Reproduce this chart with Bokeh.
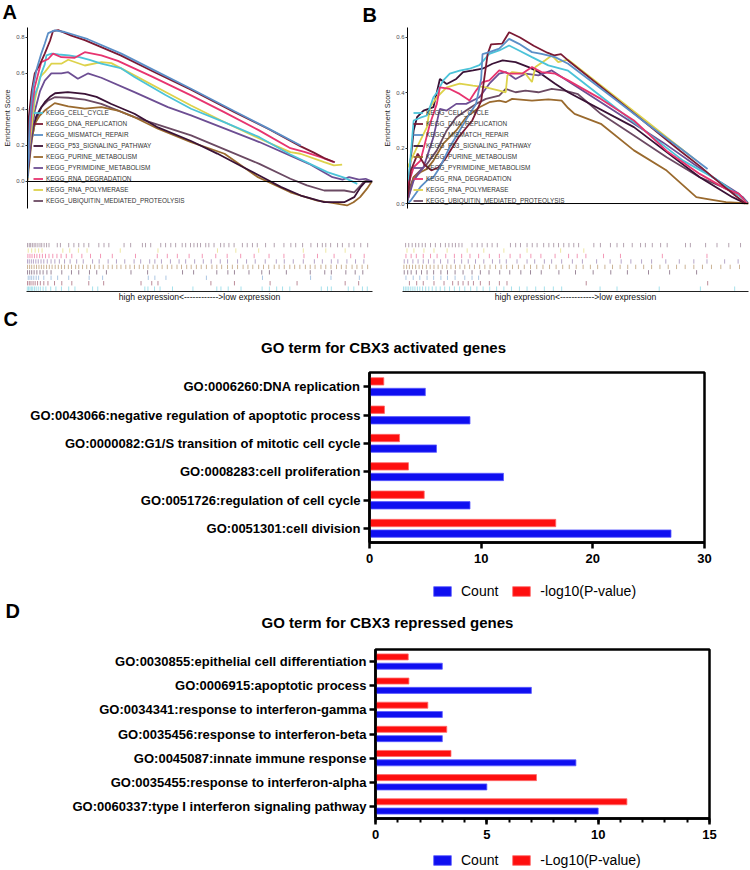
from bokeh.plotting import figure
from bokeh.models import (Range1d, FactorRange, FixedTicker, PrintfTickFormatter, Span,
                          Label, Legend, LegendItem, ColumnDataSource)
from bokeh.layouts import row, column
from bokeh.transform import dodge
from bokeh.embed import file_html
from bokeh.resources import INLINE

FONT = "Liberation Sans"

# ---------------- GSEA gene sets ----------------
set_names = ["KEGG_CELL_CYCLE", "KEGG_DNA_REPLICATION", "KEGG_MISMATCH_REPAIR",
             "KEGG_P53_SIGNALING_PATHWAY", "KEGG_PURINE_METABOLISM",
             "KEGG_PYRIMIDINE_METABOLISM", "KEGG_RNA_DEGRADATION",
             "KEGG_RNA_POLYMERASE", "KEGG_UBIQUITIN_MEDIATED_PROTEOLYSIS"]
set_colors = ["#4cc3d9", "#7b1a34", "#5b8fc7", "#3a1236", "#9a6a2e",
              "#6d4e93", "#e7346f", "#ddd24b", "#6b4a63"]

# Panel A running enrichment scores (x = rank position in %, y = ES)
a_cyc_x = [0, 0.4, 1.2, 2.1, 3.1, 4.0, 5.0, 5.5, 7.0, 9.0, 12.0, 15.0, 18.0, 21.4, 27.0, 31.0, 40.0, 47.4, 57.0, 67.2, 76.2, 86.9, 92.0, 95.6]
a_cyc_y = [0.02, 0.2, 0.37, 0.48, 0.53, 0.6, 0.65, 0.70, 0.71, 0.705, 0.70, 0.69, 0.675, 0.655, 0.63, 0.58, 0.48, 0.404, 0.33, 0.246, 0.15, 0.052, 0.02, -0.013]
a_dna_x = [0, 0.4, 1.2, 2.1, 3.6, 5.0, 6.5, 7.4, 8.9, 12.7, 16.6, 27.0, 37.0, 47.4, 60.0, 70.0, 79.2, 83.0, 86.0, 89.1]
a_dna_y = [0.03, 0.36, 0.5, 0.6, 0.65, 0.71, 0.78, 0.835, 0.84, 0.81, 0.785, 0.70, 0.605, 0.51, 0.385, 0.29, 0.195, 0.16, 0.13, 0.107]
a_mmr_x = [0, 0.67, 1.6, 2.6, 4.0, 5.0, 6.0, 7.9, 10.8, 17.5, 27.2, 36.8, 47.4, 60.0, 70.0, 79.2]
a_mmr_y = [0.02, 0.34, 0.52, 0.62, 0.71, 0.765, 0.824, 0.839, 0.83, 0.79, 0.71, 0.617, 0.515, 0.39, 0.292, 0.2]
a_p53_x = [0, 0.8, 1.6, 2.5, 3.6, 5.0, 6.5, 8.0, 11.7, 16.6, 20.0, 24.3, 31.0, 37.8, 47.4, 55.0, 62.0, 68.0, 73.4, 79.2, 86.0, 91.8, 94.7, 96.6, 98.0, 100]
a_p53_y = [0.03, 0.2, 0.3, 0.36, 0.4, 0.44, 0.47, 0.49, 0.496, 0.487, 0.47, 0.43, 0.376, 0.30, 0.225, 0.155, 0.085, 0.025, -0.03, -0.078, -0.115, -0.115, -0.087, -0.03, 0.0, 0.0]
a_pur_x = [0, 1.2, 2.1, 3.6, 5.0, 7.9, 11.8, 16.6, 21.4, 26.2, 31.0, 37.8, 47.4, 57.1, 66.8, 69.5, 76.2, 84.0, 88.8, 92.6, 94.5, 96.4, 98.4, 99.8]
a_pur_y = [0.005, 0.23, 0.32, 0.367, 0.394, 0.435, 0.417, 0.404, 0.413, 0.394, 0.357, 0.293, 0.219, 0.154, 0.024, 0.0, -0.06, -0.106, -0.12, -0.133, -0.115, -0.087, -0.04, 0.0]
a_pyr_x = [0, 1.2, 2.1, 3.6, 5.0, 6.9, 9.8, 11.8, 14.6, 17.5, 21.4, 31.0, 40.7, 47.4, 67.2, 81.6, 88.4, 91.3, 93.2, 96.1, 98.0, 99.9]
a_pyr_y = [0.04, 0.26, 0.39, 0.5, 0.56, 0.6, 0.6, 0.607, 0.57, 0.6, 0.576, 0.496, 0.413, 0.367, 0.219, 0.098, 0.024, 0.01, 0.024, 0.01, 0.015, 0.0]
a_deg_x = [0, 1.2, 2.1, 3.1, 4.0, 6.0, 7.4, 9.8, 13.7, 16.6, 21.4, 26.2, 35.8, 47.4, 57.0, 67.0, 76.2, 80.5, 85.0, 88.8]
a_deg_y = [0.1, 0.394, 0.524, 0.598, 0.663, 0.68, 0.71, 0.69, 0.687, 0.718, 0.70, 0.67, 0.585, 0.478, 0.385, 0.285, 0.185, 0.163, 0.135, 0.107]
a_pol_x = [0, 1.2, 2.1, 3.6, 5.0, 6.9, 9.8, 11.8, 16.6, 21.4, 24.3, 31.0, 40.7, 47.4, 57.0, 67.0, 76.2, 79.1, 86.0, 88.8, 91.2]
a_pol_y = [0.12, 0.3, 0.45, 0.58, 0.607, 0.654, 0.654, 0.676, 0.644, 0.663, 0.657, 0.589, 0.49, 0.422, 0.33, 0.24, 0.163, 0.154, 0.107, 0.089, 0.094]
a_ubi_x = [0, 1.2, 2.1, 4.0, 6.0, 7.9, 11.8, 16.6, 21.4, 31.0, 47.4, 67.2, 76.2, 81.0, 86.0, 91.8, 94.7, 96.6, 97.5, 99.5]
a_ubi_y = [0.06, 0.228, 0.32, 0.413, 0.45, 0.468, 0.465, 0.454, 0.431, 0.357, 0.256, 0.098, 0.015, -0.022, -0.05, -0.05, -0.06, -0.022, 0.0, 0.0]

# Panel B running enrichment scores
b_cyc_x = [0, 0.4, 1.8, 3.8, 5.7, 7.6, 8.6, 10.5, 12.4, 15.3, 18.2, 21.1, 24.0, 26.9, 29.8, 32.7, 36.5, 41.3, 47.1, 60.0, 70.0, 80.8, 90.4, 97.2, 99.6]
b_cyc_y = [0.05, 0.095, 0.3, 0.31, 0.318, 0.384, 0.4, 0.445, 0.469, 0.48, 0.487, 0.5, 0.541, 0.553, 0.571, 0.553, 0.529, 0.499, 0.48, 0.356, 0.259, 0.155, 0.089, 0.029, 0.005]
b_dna_x = [0, 1, 3, 5, 7, 9, 11, 13, 15, 17, 19, 21.6, 22.5, 23.5, 24.5, 27.8, 29.8, 33, 37, 41, 43, 45, 47.1, 60, 70, 80, 85.7, 92, 96, 99.1]
b_dna_y = [0.02, 0.12, 0.18, 0.14, 0.12, 0.13, 0.16, 0.2, 0.24, 0.27, 0.3, 0.37, 0.45, 0.54, 0.575, 0.578, 0.619, 0.6, 0.57, 0.545, 0.535, 0.54, 0.517, 0.39, 0.29, 0.19, 0.135, 0.07, 0.03, 0.0]
b_mmr_x = [0, 0.9, 3.8, 5.7, 7.6, 9.5, 12.4, 15.3, 18.2, 20.1, 21.6, 22.0, 24.0, 26.9, 29.8, 32.7, 36.5, 39.3, 43.3, 47.1, 60, 70, 80, 88]
b_mmr_y = [0.0, 0.01, 0.06, 0.083, 0.095, 0.131, 0.204, 0.264, 0.324, 0.36, 0.45, 0.54, 0.547, 0.56, 0.595, 0.577, 0.547, 0.541, 0.529, 0.505, 0.385, 0.29, 0.2, 0.125]
b_p53_x = [0, 0.9, 1.8, 2.8, 4.7, 7.6, 9.5, 11.5, 14.3, 16.3, 19.2, 22.0, 24.9, 27.9, 31.7, 35.5, 38.4, 43.3, 47.1, 66.4, 85.7, 90.5, 95.3, 99.1]
b_p53_y = [0.035, 0.155, 0.264, 0.312, 0.336, 0.348, 0.45, 0.432, 0.45, 0.475, 0.481, 0.487, 0.505, 0.517, 0.511, 0.493, 0.475, 0.433, 0.402, 0.276, 0.095, 0.059, 0.023, 0.0]
b_pur_x = [0, 1.8, 3.8, 5.7, 7.6, 10.5, 14.3, 17.2, 21.1, 24.0, 26.9, 28.8, 30.7, 36.5, 41.3, 45.2, 47.1, 49.0, 56.7, 66.4, 76.0, 84.7, 87.6, 93.4, 100]
b_pur_y = [0.01, 0.095, 0.113, 0.125, 0.155, 0.216, 0.264, 0.312, 0.348, 0.366, 0.372, 0.366, 0.378, 0.372, 0.376, 0.372, 0.345, 0.324, 0.288, 0.192, 0.119, 0.023, 0.017, 0.005, 0.0]
b_pyr_x = [0, 1.8, 4.7, 7.6, 9.5, 11.5, 14.3, 17.2, 21.1, 24.0, 26.9, 28.8, 31.7, 34.6, 38.4, 42.3, 46.1, 60, 75, 89.5, 97.2, 99.6]
b_pyr_y = [0.01, 0.083, 0.131, 0.24, 0.342, 0.336, 0.36, 0.36, 0.384, 0.433, 0.469, 0.475, 0.45, 0.469, 0.463, 0.481, 0.45, 0.34, 0.22, 0.095, 0.035, 0.005]
b_deg_x = [0, 1.8, 3.8, 6.6, 8.6, 9.5, 12.4, 15.3, 18.2, 20.1, 22.0, 24.0, 26.9, 29.8, 33.6, 36.5, 39.3, 43.3, 47.1, 56.7, 66.4, 76.0, 85.7, 93.4, 97.2, 99.6]
b_deg_y = [0.06, 0.131, 0.155, 0.288, 0.36, 0.42, 0.414, 0.396, 0.372, 0.408, 0.439, 0.445, 0.481, 0.469, 0.469, 0.493, 0.475, 0.469, 0.445, 0.378, 0.3, 0.19, 0.107, 0.053, 0.035, 0.0]
b_pol_x = [0, 2.8, 5.7, 6.6, 8.6, 11.5, 15.3, 19.2, 23.0, 26.9, 28.8, 29.3, 30.7, 34.6, 36.5, 37.5, 40.3, 42.3, 44.2, 47.1, 60, 70, 84.7]
b_pol_y = [0.13, 0.204, 0.276, 0.348, 0.384, 0.42, 0.433, 0.426, 0.42, 0.408, 0.402, 0.463, 0.475, 0.469, 0.439, 0.493, 0.517, 0.535, 0.511, 0.52, 0.395, 0.298, 0.155]
b_ubi_x = [0, 1.8, 5.7, 8.6, 11.5, 14.3, 17.2, 20.1, 23.0, 26.9, 28.8, 31.7, 34.6, 38.4, 42.3, 46.1, 50.0, 56.7, 66.4, 76.0, 85.7, 92.5, 98.3, 100]
b_ubi_y = [0.035, 0.095, 0.143, 0.192, 0.264, 0.312, 0.336, 0.36, 0.378, 0.39, 0.414, 0.402, 0.408, 0.402, 0.414, 0.408, 0.395, 0.324, 0.246, 0.167, 0.095, 0.059, 0.023, 0.0]

# Hit positions (rank %) in the rug under each panel
a_hit_cyc = [0.2, 0.6, 1.0, 1.4, 1.8, 2.3, 2.8, 3.4, 4.0, 4.8, 5.6, 7.0, 8.5, 10.1, 12.2, 14.0, 19.1, 20.6, 34.2, 35.1, 37.0, 38.6, 42.2, 48.1, 55.0, 56.2, 58.3, 62.0, 68.1, 70.2, 72.3, 74.0, 76.1, 85.2, 87.0, 88.1, 93.0, 94.6, 97.1, 98.5]
a_hit_dna = [0.3, 0.8, 1.3, 1.9, 2.5, 3.2, 4.0, 5.0, 6.2, 8.1, 10.2, 13.1, 18.0, 22.3, 33.1, 36.2, 38.0, 53.3, 60.1, 70.4, 78.2, 92.1, 96.0]
a_hit_mmr = [0.5, 1.0, 1.5, 2.1, 2.8, 3.5, 5.0, 7.1, 9.0, 12.2, 18.1, 22.0, 35.2, 37.1, 40.3, 52.0, 68.2, 82.1, 88.0, 96.2]
a_hit_p53 = [0.3, 0.9, 1.5, 2.2, 3.0, 3.9, 4.8, 5.9, 7.1, 10.2, 13.0, 15.1, 18.2, 20.3, 23.1, 30.2, 35.0, 45.1, 48.3, 55.0, 58.2, 60.1, 64.3, 68.0, 70.2, 75.1, 82.0, 86.2, 88.1, 92.3, 95.0, 97.2]
a_hit_pur = [0.3, 0.9, 1.5, 2.2, 2.9, 3.6, 4.3, 5.0, 5.8, 6.6, 7.4, 8.3, 9.2, 10.1, 11.0, 12.1, 13.0, 14.2, 15.1, 16.2, 17.4, 18.5, 19.7, 21.0, 22.2, 23.6, 24.8, 26.1, 27.3, 28.7, 29.9, 31.2, 32.6, 33.8, 35.1, 36.6, 37.8, 39.2, 40.7, 42.0, 43.5, 44.8, 46.3, 47.6, 49.1, 50.5, 52.0, 53.6, 55.0, 56.4, 58.1, 59.5, 61.0, 62.6, 64.0, 65.4, 67.1, 68.5, 70.0, 71.6, 73.0, 74.5, 76.1, 77.5, 79.0, 80.6, 82.0, 83.4, 85.1, 86.5, 88.0, 89.6, 91.0, 92.4, 94.1, 95.5, 97.0, 98.6]
a_hit_pyr = [0.3, 0.8, 1.4, 2.0, 2.7, 3.4, 4.2, 5.0, 6.0, 7.1, 8.2, 9.5, 11.0, 12.6, 14.5, 16.4, 19.1, 21.0, 23.6, 26.0, 28.4, 31.1, 33.0, 35.6, 37.1, 39.0, 41.6, 44.1, 46.0, 48.6, 51.1, 53.4, 56.0, 58.1, 61.0, 63.6, 66.1, 69.0, 72.2, 74.5, 77.1, 80.0, 83.2, 85.5, 88.1, 90.0, 92.6, 95.1, 97.5]
a_hit_deg = [0.4, 1.0, 1.6, 2.3, 3.0, 3.8, 4.6, 5.5, 6.5, 7.6, 8.8, 10.0, 11.5, 13.1, 16.0, 18.5, 21.4, 24.8, 31.5, 37.8, 40.7, 43.6, 47.0, 50.8, 54.7, 58.0, 61.9, 65.8, 70.1, 74.4, 80.2, 84.1, 88.9, 93.7, 97.6]
a_hit_pol = [0.5, 1.5, 2.5, 3.5, 4.5, 10.5, 12.5, 15.0, 17.5, 27.1, 38.0, 55.2, 60.5, 67.1, 80.0, 86.5, 92.1]
a_hit_ubi = [0.3, 0.8, 1.2, 1.7, 2.2, 2.7, 3.3, 3.9, 4.4, 5.1, 5.8, 6.5, 8.9, 9.8, 12.2, 13.7, 15.1, 16.6, 18.0, 20.9, 22.4, 23.8, 28.2, 30.1, 33.5, 34.4, 35.9, 38.8, 40.2, 41.7, 43.1, 45.0, 46.0, 47.4, 48.4, 49.4, 50.3, 51.8, 52.7, 54.2, 56.1, 57.1, 58.5, 60.0, 62.4, 63.8, 65.3, 66.7, 69.1, 71.6, 74.4, 76.4, 77.8, 79.8, 82.2, 84.1, 85.5, 86.5, 87.9, 89.9, 91.3, 93.2, 94.7, 96.6, 98.6]

b_hit_cyc = [0.3, 0.8, 1.3, 1.8, 2.4, 3.0, 3.6, 4.3, 5.0, 5.8, 6.7, 7.6, 8.6, 9.7, 10.9, 12.2, 13.6, 15.0, 16.5, 18.0, 19.7, 21.5, 23.3, 25.2, 27.2, 29.3, 31.5, 33.8, 36.0, 38.5, 41.0, 43.6, 46.0, 57.1, 62.0, 74.2, 86.1, 96.0]
b_hit_dna = [2.0, 4.1, 6.0, 9.1, 12.0, 14.5, 16.1, 17.5, 19.0, 20.5, 22.5, 25.1, 28.0, 30.2, 53.1, 88.2]
b_hit_mmr = [1.0, 3.1, 5.0, 7.1, 9.0, 11.1, 13.0, 15.2, 18.0, 20.1, 22.0]
b_hit_p53 = [0.5, 1.5, 2.5, 4.0, 5.5, 7.1, 9.0, 11.1, 13.0, 15.2, 17.5, 20.1, 22.5, 25.0, 28.1, 31.0, 34.2, 37.0, 40.1, 45.2, 50.0, 55.1, 60.2, 65.0, 71.1, 77.2, 85.0]
b_hit_pur = [0.4, 1.2, 2.0, 2.9, 3.8, 4.8, 5.8, 6.9, 8.0, 9.1, 10.3, 11.5, 12.8, 14.0, 15.3, 16.6, 18.0, 19.4, 20.8, 22.3, 23.8, 25.3, 26.9, 28.5, 30.1, 31.8, 33.5, 35.2, 37.0, 38.8, 40.6, 42.5, 44.4, 46.3, 48.2, 50.2, 52.2, 54.3, 56.4, 58.5, 60.7, 62.9, 65.1, 67.4, 69.7, 72.0, 74.4, 76.8, 79.2, 81.7, 84.2, 86.7, 89.3, 92.0, 94.7, 97.4]
b_hit_pyr = [0.5, 1.5, 3.0, 4.5, 6.0, 7.5, 9.1, 11.0, 13.1, 15.0, 17.1, 19.0, 21.1, 23.5, 26.0, 28.1, 30.0, 33.1, 36.0, 38.2, 41.0, 43.1, 46.0, 49.1, 52.0, 56.1, 60.0, 63.2, 66.0, 69.1, 72.0, 76.1, 80.0, 84.2, 88.0, 93.1, 97.0]
b_hit_deg = [1.0, 2.5, 4.0, 6.0, 8.1, 10.0, 12.5, 15.0, 17.1, 19.5, 22.0, 25.1, 28.0, 31.1, 34.0, 37.1, 40.0, 44.1, 48.0, 50.5, 53.0, 58.1, 63.0, 75.1, 88.0]
b_hit_pol = [1.3, 3.3, 6.2, 9.1, 12.9, 18.7, 23.5, 29.3, 36.0, 45.7, 52.4]
b_hit_ubi = [0.9, 1.8, 2.8, 3.8, 4.7, 5.7, 6.6, 8.1, 9.5, 11.0, 12.4, 13.4, 14.4, 15.3, 16.3, 17.2, 20.1, 21.6, 23.0, 24.5, 25.9, 27.4, 31.2, 32.7, 34.1, 36.0, 37.5, 38.9, 40.8, 42.3, 43.7, 45.1, 46.6, 48.1, 49.5, 50.9, 55.3, 57.2, 60.1, 62.0, 63.9, 66.4, 68.8, 70.2, 72.2, 74.6, 76.5, 81.8, 83.2, 87.6, 90.9, 94.3, 97.7]

es_ticks_a = [0.0, 0.2, 0.4, 0.6, 0.8]
es_ticks_b = [0.0, 0.2, 0.4, 0.6]

# ---------------- GO enrichment ----------------
c_terms = ["GO:0006260:DNA replication",
           "GO:0043066:negative regulation of apoptotic process",
           "GO:0000082:G1/S transition of mitotic cell cycle",
           "GO:0008283:cell proliferation",
           "GO:0051726:regulation of cell cycle",
           "GO:0051301:cell division"]
c_count = [5, 9, 6, 12, 9, 27]
c_logp = [1.28, 1.34, 2.69, 3.49, 4.9, 16.68]
c_xticks = [0, 10, 20, 30]

d_terms = ["GO:0030855:epithelial cell differentiation",
           "GO:0006915:apoptotic process",
           "GO:0034341:response to interferon-gamma",
           "GO:0035456:response to interferon-beta",
           "GO:0045087:innate immune response",
           "GO:0035455:response to interferon-alpha",
           "GO:0060337:type I interferon signaling pathway"]
d_count = [3, 7, 3, 3, 9, 5, 10]
d_logp = [1.47, 1.5, 2.35, 3.2, 3.39, 7.23, 11.29]
d_xticks = [0, 5, 10, 15]
d_minor = list(range(0, 16))

BLUE = "#0f0ff0"
RED = "#fe0f0f"
BLUE_EDGE = "#5a5aff"
RED_EDGE = "#ff6a6a"


def blank(width, height):
    """A figure whose frame is its whole canvas, used for free-standing texts."""
    h = figure(frame_width=width, frame_height=height, x_range=Range1d(0, 1), y_range=Range1d(0, 1),
               output_backend="svg", toolbar_location=None, frame_align=False,
               x_axis_location=None, y_axis_location=None,
               min_border_left=0, min_border_right=0, min_border_top=0, min_border_bottom=0)
    h.grid.visible = False
    h.outline_line_color = None
    return h


def label(p, x, y_from_top, height, text, size, bold=True, align="left"):
    p.add_layout(Label(x=x, y=height - y_from_top, x_units="screen", y_units="screen",
                       text=text, text_font=FONT, text_font_size=size,
                       text_font_style="bold" if bold else "normal",
                       text_align=align, text_baseline="middle", text_color="black"))


def gsea_main(width, left, right, ymin, ymax, ticks, curves):
    p = figure(width=width, height=208, x_range=Range1d(0, 100), y_range=Range1d(ymin, ymax),
               output_backend="svg", toolbar_location=None, frame_align=False,
               min_border_left=left, min_border_right=right, min_border_top=0, min_border_bottom=27)
    p.grid.visible = False
    p.outline_line_color = None
    p.xaxis.visible = False
    ax = p.yaxis[0]
    ax.ticker = FixedTicker(ticks=ticks)
    ax.formatter = PrintfTickFormatter(format="%.1f")
    ax.axis_label = "Enrichment Score"
    ax.axis_label_text_font = FONT
    ax.axis_label_text_font_size = "7.2px"
    ax.axis_label_text_font_style = "normal"
    ax.axis_label_text_color = "#1a1a1a"
    ax.axis_label_standoff = 1
    ax.major_label_text_font = FONT
    ax.major_label_text_font_size = "6px"
    ax.major_label_text_color = "#4d4d4d"
    ax.major_label_standoff = 1
    ax.major_tick_out = 2
    ax.major_tick_in = 0
    ax.minor_tick_out = 0
    ax.minor_tick_in = 0
    ax.major_tick_line_color = "#333333"
    ax.axis_line_color = "black"
    p.add_layout(Span(location=0, dimension="width", line_color="black", line_width=1))
    rends = {}
    for i in [8, 4, 3, 5, 7, 0, 6, 1, 2]:
        xs, ys = curves[i]
        rends[i] = p.line(xs, ys, line_color=set_colors[i], line_width=1.8)
    items = [LegendItem(label=set_names[i], renderers=[rends[i]]) for i in range(9)]
    lg = Legend(items=items, location=(6, 3), orientation="vertical",
                glyph_width=10, glyph_height=9, label_height=9, spacing=2,
                label_standoff=3, padding=0, margin=0,
                label_text_font=FONT, label_text_font_size="6.4px", label_text_color="#333333",
                border_line_color=None, background_fill_alpha=0)
    p.add_layout(lg)
    return p


def gsea_rug(width, left, right, hits):
    r = figure(width=width, height=70, x_range=Range1d(0, 100), y_range=Range1d(0, 9),
               output_backend="svg", toolbar_location=None, frame_align=False,
               min_border_left=left, min_border_right=right, min_border_top=7, min_border_bottom=14)
    r.grid.visible = False
    r.outline_line_color = None
    r.yaxis.visible = False
    ax = r.xaxis[0]
    ax.ticker = FixedTicker(ticks=[])
    ax.major_tick_out = 0
    ax.major_tick_in = 0
    ax.minor_tick_out = 0
    ax.major_label_standoff = 0
    ax.major_label_text_font_size = "0px"
    ax.axis_line_color = "#222222"
    ax.axis_label = "high expression<------------>low expression"
    ax.axis_label_text_font = FONT
    ax.axis_label_text_font_size = "8.6px"
    ax.axis_label_text_font_style = "normal"
    ax.axis_label_text_color = "#111111"
    ax.axis_label_standoff = 0
    for i in range(9):
        xs = hits[i]
        r.segment(x0=xs, y0=[i + 0.12] * len(xs), x1=xs, y1=[i + 0.92] * len(xs),
                  line_color=set_colors[i], line_alpha=0.5, line_width=1)
    return r


a_curves = [(a_cyc_x, a_cyc_y), (a_dna_x, a_dna_y), (a_mmr_x, a_mmr_y), (a_p53_x, a_p53_y),
            (a_pur_x, a_pur_y), (a_pyr_x, a_pyr_y), (a_deg_x, a_deg_y), (a_pol_x, a_pol_y),
            (a_ubi_x, a_ubi_y)]
b_curves = [(b_cyc_x, b_cyc_y), (b_dna_x, b_dna_y), (b_mmr_x, b_mmr_y), (b_p53_x, b_p53_y),
            (b_pur_x, b_pur_y), (b_pyr_x, b_pyr_y), (b_deg_x, b_deg_y), (b_pol_x, b_pol_y),
            (b_ubi_x, b_ubi_y)]
a_hits = [a_hit_cyc, a_hit_dna, a_hit_mmr, a_hit_p53, a_hit_pur, a_hit_pyr, a_hit_deg, a_hit_pol, a_hit_ubi]
b_hits = [b_hit_cyc, b_hit_dna, b_hit_mmr, b_hit_p53, b_hit_pur, b_hit_pyr, b_hit_deg, b_hit_pol, b_hit_ubi]

# header with panel letters A and B (page y 0..27)
hAB = blank(750, 27)
label(hAB, 2, 11, 27, "A", "20px")
label(hAB, 362, 14, 27, "B", "20px")

pA = gsea_main(380, 26, 8, -0.15, 0.855, es_ticks_a, a_curves)
rA = gsea_rug(380, 26, 8, a_hits)
pB = gsea_main(370, 22, 2, -0.018, 0.636, es_ticks_b, b_curves)
rB = gsea_rug(370, 22, 2, b_hits)


def go_fig(height, left, fw, fh, terms, count, logp, xmax, xticks, minor, off, bh):
    right = 750 - left - fw
    bottom = height - 3 - fh
    src = ColumnDataSource(dict(term=terms, count=count, logp=logp))
    p = figure(width=750, height=height, y_range=FactorRange(factors=terms[::-1]),
               x_range=Range1d(0, xmax), output_backend="svg", toolbar_location=None,
               frame_align=False,
               min_border_left=left, min_border_right=right, min_border_top=3,
               min_border_bottom=bottom)
    p.grid.visible = False
    p.outline_line_color = "black"
    p.outline_line_width = 2.5
    p.hbar(y=dodge("term", -off, range=p.y_range), right="count", height=bh, source=src,
           fill_color=BLUE, line_color=BLUE_EDGE, line_width=0.8)
    p.hbar(y=dodge("term", off, range=p.y_range), right="logp", height=bh, source=src,
           fill_color=RED, line_color=RED_EDGE, line_width=0.8)
    for ax in (p.xaxis[0], p.yaxis[0]):
        ax.axis_line_width = 2.5
        ax.major_tick_line_width = 2.5
        ax.major_tick_in = 0
        ax.major_tick_out = 6
        ax.major_label_text_font = FONT
        ax.major_label_text_font_style = "bold"
        ax.major_label_text_color = "black"
    p.xaxis.ticker = FixedTicker(ticks=xticks, minor_ticks=minor)
    p.xaxis.minor_tick_out = 4
    p.xaxis.minor_tick_in = 0
    p.xaxis.minor_tick_line_width = 2
    p.xaxis.major_label_text_font_size = "13px"
    p.xaxis.major_label_standoff = 5
    p.yaxis.major_label_text_font_size = "13px"
    p.yaxis.major_label_standoff = 3
    return p


def go_legend(height, x, bottom, logp_label):
    f = blank(750, height)
    # legend swatches only; the single off-frame bar of each carrier is never visible
    rb = f.hbar(y=[9], left=[9], right=[10], height=0.5, fill_color=BLUE,
                line_color=BLUE_EDGE, line_width=0.8)
    rr = f.hbar(y=[9], left=[9], right=[10], height=0.5, fill_color=RED,
                line_color=RED_EDGE, line_width=0.8)
    lg = Legend(items=[LegendItem(label="Count", renderers=[rb]),
                       LegendItem(label=logp_label, renderers=[rr])],
                location=(x, bottom), orientation="horizontal", glyph_width=22, glyph_height=12,
                label_height=14, label_standoff=8, spacing=12, padding=0, margin=0,
                label_text_font=FONT, label_text_font_size="14px", label_text_color="black",
                border_line_color=None, background_fill_alpha=0)
    f.add_layout(lg)
    return f


# Panel C: header 305..369, plot 369..575, legend 575..600
hC = blank(750, 64)
label(hC, 3, 13, 64, "C", "20px")
label(hC, 383, 42, 64, "GO term for CBX3 activated genes", "15px", align="center")
pC = go_fig(206, 369, 335, 170, c_terms, c_count, c_logp, 30, c_xticks, [], 0.187, 0.26)
fC = go_legend(25, 431, 1, "-log10(P-value)")

# Panel D: header 600..646, plot 646..845, legend 845..870
hD = blank(750, 46)
label(hD, 5, 10, 46, "D", "20px")
label(hD, 387, 22, 46, "GO term for CBX3 repressed genes", "15px", align="center")
pD = go_fig(199, 375, 334, 169, d_terms, d_count, d_logp, 15, d_xticks, d_minor, 0.193, 0.25)
fD = go_legend(25, 431, 2, "-Log10(P-value)")

layout = column(hAB, row(column(pA, rA), column(pB, rB)), hC, pC, fC, hD, pD, fD,
                styles={"position": "absolute", "left": "0px", "top": "0px"})

open("out.html", "w").write(file_html(layout, INLINE))
